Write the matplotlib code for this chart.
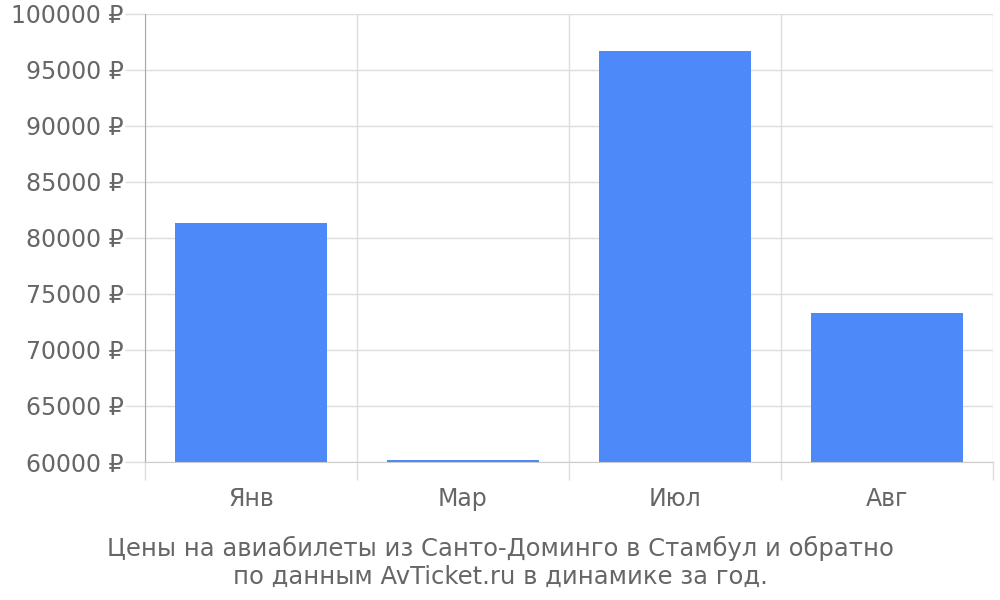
import matplotlib
matplotlib.use("Agg")
import matplotlib.pyplot as plt
from matplotlib.ticker import FuncFormatter, FixedLocator

months = ["Янв", "Мар", "Июл", "Авг"]
prices = [81300, 60200, 96700, 73300]
y_ticks = [60000, 65000, 70000, 75000, 80000, 85000, 90000, 95000, 100000]
caption = "Цены на авиабилеты из Санто-Доминго в Стамбул и обратно\nпо данным AvTicket.ru в динамике за год."

text_color = "#666666"
grid_color = "#dddddd"

plt.rcParams["font.family"] = ["DejaVu Sans"]

fig = plt.figure(figsize=(10, 6), dpi=100)
ax = fig.add_axes([0.145, 0.23, 0.848, 0.7467])

x = list(range(len(months)))
base = y_ticks[0]
ax.bar(x, [p - base for p in prices], bottom=base, width=0.72, color="#4d89f9", zorder=3)

ax.set_xlim(-0.5, len(months) - 0.5)
ax.set_ylim(y_ticks[0], y_ticks[-1])

# horizontal grid + y ticks styled as grid extension
ax.set_yticks(y_ticks)
ax.yaxis.set_major_formatter(FuncFormatter(lambda v, p: f"{int(v)} ₽"))
ax.tick_params(axis="y", length=14.4, width=1, color=grid_color, labelsize=17, labelcolor=text_color, pad=1)
ax.grid(axis="y", color=grid_color, linewidth=1, zorder=0)

# x labels at centers, boundary ticks/grid lines
ax.set_xticks(x)
ax.set_xticklabels(months)
ax.tick_params(axis="x", length=0, labelsize=17, labelcolor=text_color, pad=18)
bounds = [i - 0.5 for i in range(len(months) + 1)]
ax.xaxis.set_minor_locator(FixedLocator(bounds))
ax.tick_params(axis="x", which="minor", length=13, width=1, color=grid_color)
ax.grid(axis="x", which="minor", color=grid_color, linewidth=1, zorder=0)

for s in ["top", "right"]:
    ax.spines[s].set_visible(False)
ax.spines["left"].set_color("#aaaaaa")
ax.spines["bottom"].set_color("#cccccc")

fig.text(0.5, 0.062, caption, ha="center", va="center", fontsize=17.5, color=text_color, linespacing=1.2)

fig.savefig("out.png", dpi=100)
